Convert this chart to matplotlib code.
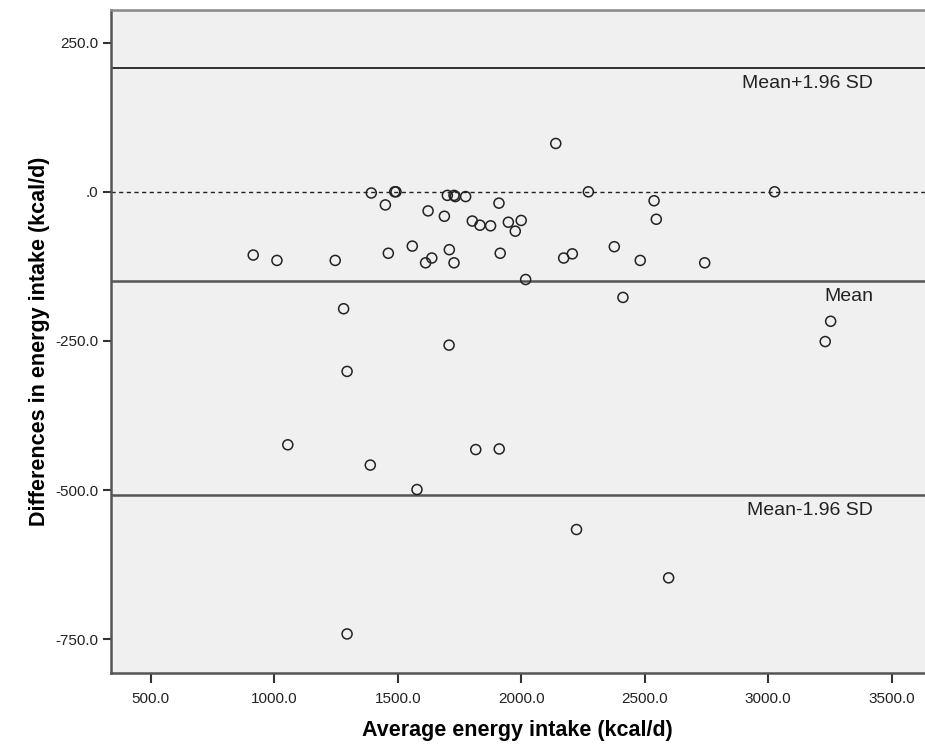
import numpy as np
import matplotlib
matplotlib.use("Agg")
import matplotlib.pyplot as plt
from matplotlib.ticker import FuncFormatter

plt.rcParams['font.family'] = ['Liberation Sans', 'DejaVu Sans']

# average intake (x) and difference (y)
avg_intake = [915, 1011, 1247, 1281, 1393, 1450, 1488, 1493, 1462, 1559,
              1623, 1613, 1638, 1689, 1701, 1728, 1733, 1775, 1709, 1728,
              1802, 1833, 1876, 1910, 1915, 1948, 2000, 1976, 2018, 2140,
              2272, 2172, 2207, 2412, 2377, 2482, 2538, 2547, 2743, 3026,
              3253, 3231, 2224, 2597, 1708, 1295, 1055, 1389, 1578, 1816,
              1911, 1295]
diff_intake = [-106, -115, -115, -196, -2, -22, 0, 0, -103, -91,
               -32, -119, -111, -41, -6, -6, -8, -8, -97, -119,
               -49, -56, -57, -19, -103, -51, -48, -66, -147, 81,
               0, -111, -104, -177, -92, -115, -15, -46, -119, 0,
               -217, -251, -566, -647, -257, -301, -424, -458, -499, -432,
               -431, -741]

mean_diff = -150.2
upper_loa = 207.2
lower_loa = -507.4
ref_lines = [upper_loa, mean_diff, lower_loa]
ref_labels = ["Mean+1.96 SD", "Mean", "Mean-1.96 SD"]

fig = plt.figure(figsize=(9.25, 7.45), dpi=100)
ax = fig.add_axes([0.1197, 0.0970, 0.8803, 0.8896])
ax.set_facecolor('#f0f0f0')

ax.axhline(0, color='#222222', lw=1.0, ls=(0, (3, 2.5)), zorder=1)
ax.axhline(upper_loa, color='#222222', lw=1.3, zorder=1)
ax.axhline(mean_diff, color='#555555', lw=1.8, zorder=1)
ax.axhline(lower_loa, color='#555555', lw=1.8, zorder=1)

ax.scatter(avg_intake, diff_intake, s=52, facecolors='none',
           edgecolors='#222222', linewidths=1.1, zorder=3)

for yv, lab in zip(ref_lines, ref_labels):
    ax.annotate(lab, xy=(3425, yv), xytext=(0, -5), textcoords='offset points',
                ha='right', va='top', fontsize=14, color='#222222')

ax.set_xlim(338, 3635)
ax.set_ylim(-806, 304.7)
ax.set_xticks([500, 1000, 1500, 2000, 2500, 3000, 3500])
ax.set_yticks([250, 0, -250, -500, -750])

def fmt(v, pos):
    if v == 0:
        return ".0"
    return "%.1f" % v

ax.xaxis.set_major_formatter(FuncFormatter(fmt))
ax.yaxis.set_major_formatter(FuncFormatter(fmt))

for side in ['left', 'bottom', 'top']:
    ax.spines[side].set_color('#555555')
    ax.spines[side].set_linewidth(1.8)
ax.spines['top'].set_color('#888888')
ax.spines['right'].set_visible(False)

ax.tick_params(direction='out', length=6, width=1.5, color='#333333',
               labelsize=11, labelcolor='#222222', pad=3)
ax.tick_params(axis='x', length=7, pad=7)

ax.set_xlabel("Average energy intake (kcal/d)", fontsize=15.5,
              fontweight='bold', labelpad=10)
ax.set_ylabel("Differences in energy intake (kcal/d)", fontsize=15.5,
              fontweight='bold', labelpad=4)

fig.savefig("out.png", dpi=100)
